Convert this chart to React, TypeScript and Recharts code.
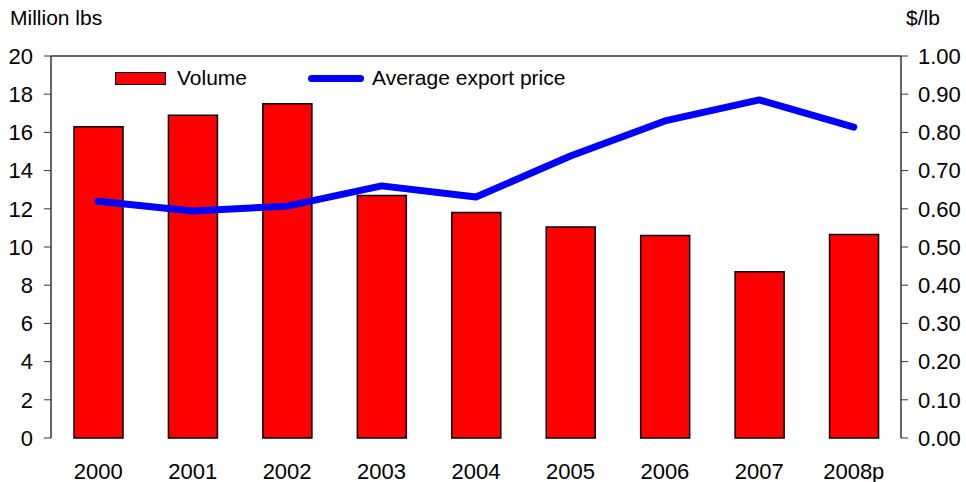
import React from "react";
import {
  ComposedChart,
  Bar,
  Line,
  XAxis,
  YAxis,
  ReferenceLine,
  Legend,
} from "recharts";

const years = ["2000", "2001", "2002", "2003", "2004", "2005", "2006", "2007", "2008p"];
const volume = [16.3, 16.9, 17.5, 12.7, 11.8, 11.05, 10.6, 8.7, 10.65];
const price = [0.62, 0.594, 0.607, 0.66, 0.631, 0.738, 0.83, 0.885, 0.814];
const volumeTicks = [0, 2, 4, 6, 8, 10, 12, 14, 16, 18, 20];
const priceTicks = [0, 0.1, 0.2, 0.3, 0.4, 0.5, 0.6, 0.7, 0.8, 0.9, 1.0];
const edgeTicks = [0, 1, 2, 3, 4, 5, 6, 7, 8, 9];

const data = years.map((year, i) => ({ year, volume: volume[i], price: price[i] }));

const FONT = "'Liberation Sans', Arial, sans-serif";
const AXIS = "#333333";

const LegendBox = () => (
  <div style={{ display: "flex", alignItems: "center", fontFamily: FONT, fontSize: 21, color: "#000" }}>
    <span style={{ display: "inline-block", width: 49, height: 11, background: "#FF0000", border: "1.5px solid #000" }} />
    <span style={{ marginLeft: 11 }}>Volume</span>
    <span style={{ display: "inline-block", width: 56, height: 7, borderRadius: 4, background: "#0000FF", marginLeft: 61 }} />
    <span style={{ marginLeft: 8 }}>Average export price</span>
  </div>
);

export default function App() {
  return (
    <div style={{ position: "absolute", left: 0, top: 0, width: 966, height: 482, background: "#fff", fontFamily: FONT }}>
      <div style={{ position: "absolute", left: 10, top: 6, fontSize: 21, color: "#000" }}>Million lbs</div>
      <div style={{ position: "absolute", left: 906, top: 6, fontSize: 21, color: "#000" }}>$/lb</div>
      <ComposedChart
        width={966}
        height={482}
        data={data}
        margin={{ top: 56, right: 0, left: 0, bottom: 0 }}
        style={{ fontFamily: FONT }}
      >
        <XAxis
          xAxisId="edge"
          type="number"
          domain={[0, 9]}
          ticks={edgeTicks}
          tick={false}
          tickSize={7}
          height={0}
          stroke={AXIS}
          axisLine={{ stroke: AXIS, strokeWidth: 1.5 }}
        />
        <XAxis
          xAxisId="cat"
          dataKey="year"
          height={44}
          axisLine={false}
          tickLine={false}
          tickSize={8}
          tickMargin={17}
          interval={0}
          tick={{ fontSize: 22, fill: "#000" }}
        />
        <YAxis
          yAxisId="left"
          orientation="left"
          width={51}
          domain={[0, 20]}
          ticks={volumeTicks}
          interval={0}
          tickSize={7}
          tickMargin={11}
          stroke={AXIS}
          axisLine={{ stroke: AXIS, strokeWidth: 1.5 }}
          tick={{ fontSize: 22, fill: "#000" }}
        />
        <YAxis
          yAxisId="right"
          orientation="right"
          width={65}
          domain={[0, 1]}
          ticks={priceTicks}
          interval={0}
          tickSize={7}
          tickMargin={10}
          stroke={AXIS}
          axisLine={{ stroke: AXIS, strokeWidth: 1.5 }}
          tickFormatter={(v: number) => v.toFixed(2)}
          tick={{ fontSize: 22, fill: "#000" }}
        />
        <ReferenceLine xAxisId="cat" yAxisId="left" y={20} stroke={AXIS} strokeWidth={1.5} />
        <Legend
          layout="vertical"
          align="center"
          verticalAlign="middle"
          wrapperStyle={{ top: 66, left: 115, width: "auto" }}
          content={() => <LegendBox />}
        />
        <Bar
          xAxisId="cat"
          yAxisId="left"
          dataKey="volume"
          name="Volume"
          fill="#FF0000"
          stroke="#000"
          strokeWidth={1.5}
          barSize={49}
          isAnimationActive={false}
        />
        <Line
          xAxisId="cat"
          yAxisId="right"
          dataKey="price"
          name="Average export price"
          type="linear"
          stroke="#0000FF"
          strokeWidth={7}
          strokeLinecap="round"
          strokeLinejoin="round"
          dot={false}
          activeDot={false}
          isAnimationActive={false}
        />
      </ComposedChart>
    </div>
  );
}
